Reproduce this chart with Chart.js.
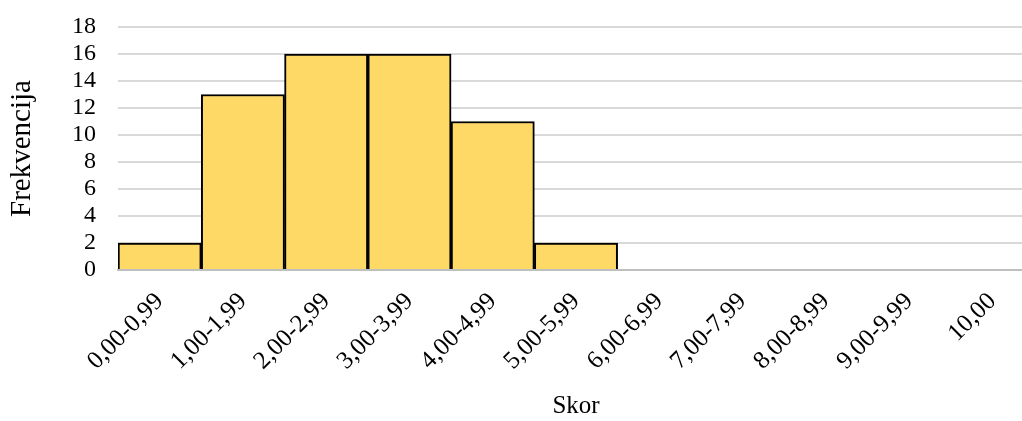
<!DOCTYPE html>
<html>
<head>
<meta charset="utf-8">
<script src="https://cdn.jsdelivr.net/npm/chart.js@4"></script>
<style>
  html, body { margin: 0; padding: 0; overflow: hidden; background: #fff; }
  #wrap { width: 1040px; height: 421px; }
</style>
</head>
<body>
<div id="wrap"><canvas id="histChart" width="1040" height="421"></canvas></div>
<script>
var kategorije = ['0,00-0,99', '1,00-1,99', '2,00-2,99', '3,00-3,99', '4,00-4,99', '5,00-5,99',
                  '6,00-6,99', '7,00-7,99', '8,00-8,99', '9,00-9,99', '10,00'];
var frekvencija = [2, 13, 16, 16, 11, 2, 0, 0, 0, 0, 0];
var yMax = 18;
var yKorak = 2;

var serif = '"Liberation Serif", "Times New Roman", serif';

var ctx = document.getElementById('histChart').getContext('2d');
var histChart = new Chart(ctx, {
    type: 'bar',
    data: {
        labels: kategorije,
        datasets: [{
            label: 'Frekvencija',
            data: frekvencija,
            backgroundColor: '#FFD966',
            borderColor: '#000000',
            borderWidth: 2,
            categoryPercentage: 1,
            barPercentage: 1
        }]
    },
    options: {
        responsive: false,
        animation: false,
        layout: { padding: { top: 27, right: 6, left: 0, bottom: 0 } },
        plugins: {
            legend: { display: false },
            tooltip: { enabled: false }
        },
        scales: {
            x: {
                grid: { display: false, drawTicks: false },
                border: { display: true, color: '#bfbfbf', width: 2 },
                ticks: {
                    color: '#000',
                    font: { family: serif, size: 25 },
                    minRotation: 45,
                    maxRotation: 45,
                    autoSkip: false,
                    padding: 17
                },
                title: {
                    display: true,
                    text: 'Skor',
                    color: '#000',
                    font: { family: serif, size: 25 },
                    padding: { top: 0, bottom: 0 }
                },
                afterFit: function(scale) { scale.height = 151; }
            },
            y: {
                min: 0,
                max: yMax,
                grid: {
                    color: '#d9d9d9',
                    lineWidth: 2,
                    drawTicks: false
                },
                border: { display: false },
                ticks: {
                    stepSize: yKorak,
                    autoSkip: false,
                    color: '#000',
                    font: { family: serif, size: 24 },
                    padding: 22
                },
                title: {
                    display: true,
                    text: 'Frekvencija',
                    color: '#000',
                    font: { family: serif, size: 29 },
                    padding: { top: 5, bottom: 0 }
                },
                afterFit: function(scale) {
                    scale.width = 118;
                    scale.paddingTop = 0;
                    scale.paddingBottom = 0;
                }
            }
        }
    }
});
</script>
</body>
</html>
